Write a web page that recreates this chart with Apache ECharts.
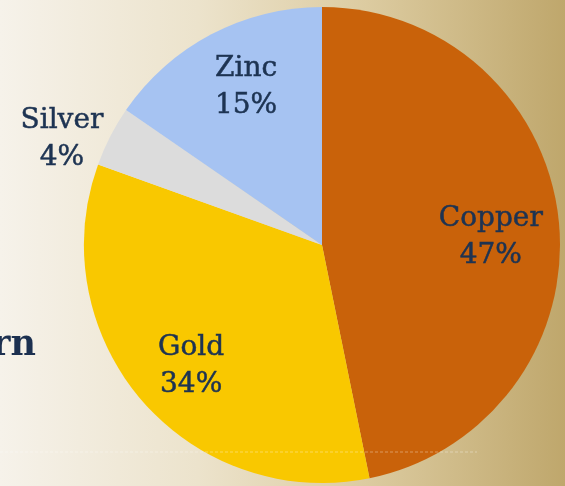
<!DOCTYPE html>
<html>
<head>
<meta charset="utf-8">
<script src="https://cdn.jsdelivr.net/npm/echarts@6/dist/echarts.min.js"></script>
<style>
  html, body { margin: 0; padding: 0; }
  #chart {
    width: 565px; height: 486px;
    background: linear-gradient(90deg, #f6f2ea 0%, #ece3cc 35%, #dccba0 65%, #bfa76c 100%);
  }
</style>
</head>
<body>
<div id="chart"></div>
<script>
// metals share (percent)
var metals = ['Copper', 'Gold', 'Silver', 'Zinc'];
var shares = [46.8, 33.7, 4.1, 15.4];
var sliceColors = ['#c9620a', '#f9c800', '#dcdcdc', '#a6c3f2'];

// label radius (fraction of pie radius) and angle nudge in degrees
var labelSpots = { Copper: [0.71, 3], Gold: [0.75, -2], Silver: [1.18, -5], Zinc: [0.735, 2] };

var cx = 322, cy = 245, R = 238;
var total = shares.reduce(function (a, b) { return a + b; }, 0);

var myChart = echarts.init(document.getElementById('chart'), null, { renderer: 'canvas' });

var option = {
  backgroundColor: 'transparent',
  graphic: [
    {
      type: 'line',
      shape: { x1: 0, y1: 452, x2: 477, y2: 452 },
      style: { stroke: 'rgba(255,255,255,0.35)', lineWidth: 1, lineDash: [3, 2] },
      z: 10
    },
    {
      type: 'text',
      x: 36,
      y: 328,
      style: {
        text: 'rn',
        font: 'bold 35px "DejaVu Serif"',
        fill: '#1c3050',
        align: 'right',
        verticalAlign: 'top'
      }
    }
  ],
  series: [
    {
      type: 'pie',
      center: [cx, cy],
      radius: R,
      startAngle: 90,
      clockwise: true,
      avoidLabelOverlap: false,
      silent: true,
      label: {
        show: true,
        position: 'inside',
        formatter: function (p) { return p.name + '\n' + Math.round(p.value) + '%'; },
        fontFamily: 'DejaVu Serif',
        fontSize: 28,
        lineHeight: 37,
        color: '#1d3352',
        textBorderColor: '#1d3352',
        textBorderWidth: 0.5,
        align: 'center'
      },
      labelLine: { show: false },
      labelLayout: function (params) {
        var i = params.dataIndex;
        var before = 0;
        for (var k = 0; k < i; k++) before += shares[k];
        var mid = (before + shares[i] / 2) / total * 360;
        var spot = labelSpots[metals[i]];
        var a = (mid + spot[1]) * Math.PI / 180;
        return {
          x: cx + spot[0] * R * Math.sin(a),
          y: cy - spot[0] * R * Math.cos(a),
          align: 'center',
          verticalAlign: 'middle'
        };
      },
      data: metals.map(function (m, i) {
        return { name: m, value: shares[i], itemStyle: { color: sliceColors[i] } };
      })
    }
  ]
};

myChart.setOption(option);
</script>
</body>
</html>
